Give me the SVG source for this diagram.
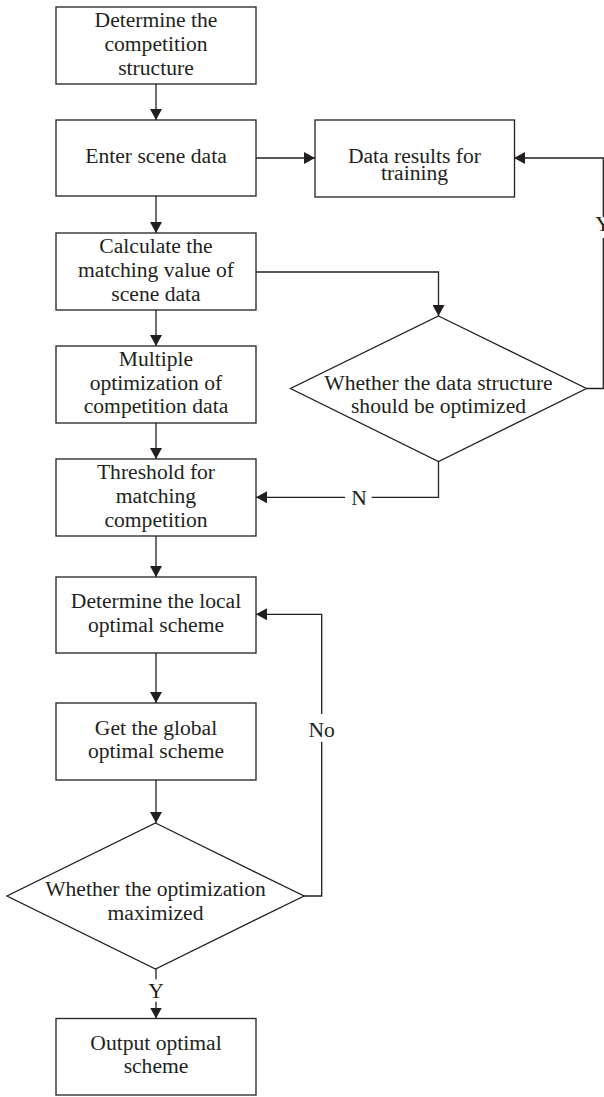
<svg xmlns="http://www.w3.org/2000/svg" width="604" height="1097" viewBox="0 0 604 1097">
<style>
.box{fill:#fff;stroke:#231f20;stroke-width:1.3}
.ln{fill:none;stroke:#231f20;stroke-width:1.3}
text{font-family:"Liberation Serif","Times New Roman",serif;font-size:21.6px;fill:#231f20;text-anchor:middle}
</style>
<defs>
<marker id="ar" markerWidth="11" markerHeight="12" refX="11" refY="6" orient="auto" markerUnits="userSpaceOnUse">
<path d="M0,0 L11,6 L0,12 Z" fill="#231f20"/>
</marker>
</defs>
<rect width="604" height="1097" fill="#fff"/>
<g id="connectors">
<path class="ln" d="M156,84 V120" marker-end="url(#ar)"/>
<path class="ln" d="M256,158 H315" marker-end="url(#ar)"/>
<path class="ln" d="M156,196 V233" marker-end="url(#ar)"/>
<path class="ln" d="M256,272 H438.5 V316" marker-end="url(#ar)"/>
<path class="ln" d="M156,310 V346" marker-end="url(#ar)"/>
<path class="ln" d="M156,423 V459" marker-end="url(#ar)"/>
<path class="ln" d="M586.5,388.5 H603.3 V238"/>
<path class="ln" d="M603.3,217 V158 H514" marker-end="url(#ar)"/>
<text x="603" y="231">Y</text>
<path class="ln" d="M438.5,461.5 V497.3 H371.7"/>
<path class="ln" d="M345,497.3 H256" marker-end="url(#ar)"/>
<text x="359" y="505">N</text>
<path class="ln" d="M156,536 V577" marker-end="url(#ar)"/>
<path class="ln" d="M156,653 V703" marker-end="url(#ar)"/>
<path class="ln" d="M156,780 V823" marker-end="url(#ar)"/>
<path class="ln" d="M304,896 H321.7 V741.7"/>
<path class="ln" d="M321.7,714 V614.3 H256" marker-end="url(#ar)"/>
<text x="321.7" y="736.5">No</text>
<path class="ln" d="M156,969 V979.3"/>
<path class="ln" d="M156,1001.7 V1018.5" marker-end="url(#ar)"/>
<text x="156" y="998.3">Y</text>
</g>
<g id="n1"><rect class="box" x="56" y="7" width="200" height="77"/>
<text x="156" y="27.3">Determine the</text><text x="156" y="51.3">competition</text><text x="156" y="75.3">structure</text></g>
<g id="n2"><rect class="box" x="56" y="120" width="200" height="76"/>
<text x="156" y="163.3">Enter scene data</text></g>
<g id="n3"><rect class="box" x="315" y="120" width="199.5" height="77"/>
<text x="414.5" y="163">Data results for</text><text x="414.5" y="180.3">training</text></g>
<g id="n4"><rect class="box" x="56" y="233" width="200" height="77"/>
<text x="156" y="253.3">Calculate the</text><text x="156" y="277.3">matching value of</text><text x="156" y="300.7">scene data</text></g>
<g id="n5"><rect class="box" x="56" y="346" width="200" height="77"/>
<text x="156" y="366">Multiple</text><text x="156" y="389.5">optimization of</text><text x="156" y="413.3">competition data</text></g>
<g id="n6"><polygon class="box" points="438.5,316 586.5,388.5 438.5,461.5 290.5,388.5"/>
<text x="438.5" y="390">Whether the data structure</text><text x="438.5" y="413.3">should be optimized</text></g>
<g id="n7"><rect class="box" x="56" y="459" width="200" height="77"/>
<text x="156" y="479.3">Threshold for</text><text x="156" y="503.3">matching</text><text x="156" y="527.3">competition</text></g>
<g id="n8"><rect class="box" x="56" y="577" width="200" height="76"/>
<text x="156" y="608.3">Determine the local</text><text x="156" y="631.7">optimal scheme</text></g>
<g id="n9"><rect class="box" x="56" y="703" width="200" height="77"/>
<text x="156" y="735">Get the global</text><text x="156" y="758.3">optimal scheme</text></g>
<g id="n10"><polygon class="box" points="155.5,823 304,896 155.5,969 7,896"/>
<text x="155.5" y="896">Whether the optimization</text><text x="155.5" y="920">maximized</text></g>
<g id="n11"><rect class="box" x="56" y="1018.5" width="200" height="76.5"/>
<text x="156" y="1050">Output optimal</text><text x="156" y="1073.3">scheme</text></g>
</svg>
